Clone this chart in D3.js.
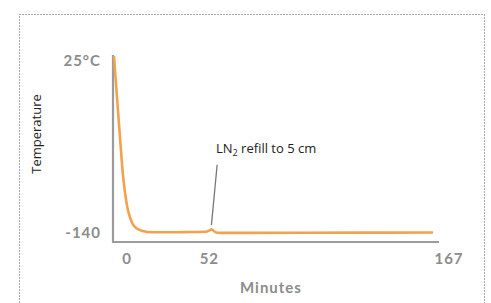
<!DOCTYPE html>
<html>
<head>
<meta charset="utf-8">
<script src="https://cdn.jsdelivr.net/npm/d3@7"></script>
<style>
  body { margin: 0; background: #fff; }
  svg { display: block; }
</style>
</head>
<body>
<div id="chart"></div>
<script>
// time in minutes, temperature in °C
var minutes = [0, 1, 2, 3, 4, 5, 6, 7, 8.5, 10, 12, 15, 20, 30, 40, 48, 50, 51, 52, 53.5, 56, 70, 100, 130, 167];
var temps   = [25, 0, -24, -48, -72, -92, -106, -117, -127, -133, -136.8, -139, -140.2, -140.3, -140, -139.8, -138.5, -137.5, -138.6, -140.5, -140.8, -140.8, -140.7, -140.6, -140.5];

var xTicks = [0, 52, 167];
var yTicks = [25, -140];
var yTickLabels = ["25°C", "-140"];

var note = { t: 51, temp: -133.5, labelT: 54, labelTemp: -77, textT: 53.4, textTemp: -61 };

var width = 491, height = 303;

var svg = d3.select('#chart')
  .append('svg')
  .attr('width', width)
  .attr('height', height);

// dotted frame
svg.append('rect')
  .attr('x', 19.5).attr('y', 14.5)
  .attr('width', 465).attr('height', 300)
  .attr('fill', 'none')
  .attr('stroke', '#555')
  .attr('stroke-dasharray', '1,2');

var x = d3.scaleLinear().domain([0, 167]).range([114, 433]);
var y = d3.scaleLinear().domain([-140, 25]).range([232, 56]);

var axisColor = '#9b9b9b';
var tickStyle = 'font-family: Lato, "DejaVu Sans", sans-serif; font-size: 15px; font-weight: bold; fill: #8c8c8c; letter-spacing: 1px';

// axes lines
svg.append('line')
  .attr('x1', 113).attr('x2', 113)
  .attr('y1', 55).attr('y2', 242.5)
  .attr('stroke', axisColor).attr('stroke-width', 2.2);
svg.append('line')
  .attr('x1', 112).attr('x2', 439)
  .attr('y1', 242).attr('y2', 242)
  .attr('stroke', axisColor).attr('stroke-width', 2.2);

// y tick labels
var yDy = [5, 1];
svg.selectAll('.ytick')
  .data(yTicks)
  .enter()
  .append('text')
  .attr('class', 'ytick')
  .attr('x', 101)
  .attr('y', function(d, i) { return y(d) + yDy[i]; })
  .attr('dy', '0.35em')
  .attr('text-anchor', 'end')
  .attr('style', tickStyle)
  .text(function(d, i) { return yTickLabels[i]; });

// x tick labels
var xDx = [13, -4, 16];
svg.selectAll('.xtick')
  .data(xTicks)
  .enter()
  .append('text')
  .attr('class', 'xtick')
  .attr('x', function(d, i) { return x(d) + xDx[i]; })
  .attr('y', 264)
  .attr('text-anchor', 'middle')
  .attr('style', tickStyle)
  .text(function(d) { return d; });

svg.append('text')
  .attr('x', 271).attr('y', 293)
  .attr('text-anchor', 'middle')
  .attr('style', tickStyle)
  .text('Minutes');

svg.append('text')
  .attr('transform', 'translate(41,134) rotate(-90)')
  .attr('text-anchor', 'middle')
  .attr('style', 'font-family: "Open Sans", sans-serif; font-size: 13px; fill: #222')
  .text('Temperature');

// data line
var data = minutes.map(function(t, i) { return { t: t, v: temps[i] }; });
var line = d3.line()
  .x(function(d) { return x(d.t); })
  .y(function(d) { return y(d.v); })
  .curve(d3.curveMonotoneX);

svg.append('path')
  .datum(data)
  .attr('d', line)
  .attr('fill', 'none')
  .attr('stroke', '#f2a24d')
  .attr('stroke-width', 2.6);

// annotation
svg.append('line')
  .attr('x1', x(note.t)).attr('y1', y(note.temp))
  .attr('x2', x(note.labelT)).attr('y2', y(note.labelTemp))
  .attr('stroke', '#777').attr('stroke-width', 1.3);

var label = svg.append('text')
  .attr('x', x(note.textT)).attr('y', y(note.textTemp) + 5)
  .attr('style', 'font-family: "Open Sans", sans-serif; font-size: 13px; fill: #222');
label.append('tspan').text('LN');
label.append('tspan').attr('dy', 3).attr('font-size', 9).text('2');
label.append('tspan').attr('dy', -3).text(' refill to 5 cm');
</script>
</body>
</html>
